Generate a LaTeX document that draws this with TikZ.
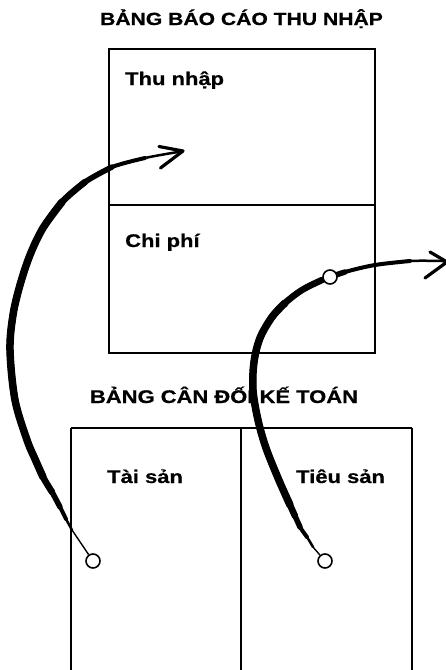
\documentclass[tikz,border=0pt]{standalone}
\usepackage{fontspec}
\setmainfont{Liberation Sans}[BoldFeatures={FakeBold=0.6}]
\begin{document}
\begin{tikzpicture}[x=1pt,y=-1pt,
  lbl/.style={font=\bfseries\fontsize{18.3}{20}\selectfont, inner sep=0pt, xscale=1.2},
  frame/.style={line width=1.9pt, draw=black},
  ring/.style={circle, draw=black, fill=white, line width=1.6pt, minimum size=14pt, inner sep=0pt},
  stroke/.style={line cap=round, line join=round, draw=black},
  tail/.style={line width=1.4pt, draw=black},
  barb/.style={line width=3.2pt, line cap=round, line join=round, draw=black}]
\useasboundingbox (0,0) rectangle (446,670);
\clip (0,0) rectangle (446,670);
\fill[white] (0,0) rectangle (446,670);

% titles
\node[lbl, font=\bfseries\fontsize{17.6}{20}\selectfont, anchor=base] (t1) at (241.5,25) {BẢNG BÁO CÁO THU NHẬP};
\node[lbl, anchor=base] (t2) at (224,403) {BẢNG CÂN ĐỐI KẾ TOÁN};

% income statement box
\draw[frame] (109,49) rectangle (375,353);
\draw[frame] (109,205) -- (375,205);
% balance sheet box
\draw[frame] (71,428) -- (71,690);
\draw[frame] (241,428) -- (241,690);
\draw[frame] (412,428) -- (412,690);
\draw[frame] (71,428) -- (412,428);

\node[lbl, anchor=base west] (inc) at (125,85) {Thu nhập};
\node[lbl, anchor=base west] (exp) at (125,247) {Chi phí};
\node[lbl, anchor=base west] (ast) at (107,483) {Tài sản};
\node[lbl, anchor=base west] (lia) at (296,483) {Tiêu sản};

% ---- left arrow: from asset ring up to income ----
\coordinate (la) at (72,530);
\coordinate (lb) at (178,152);
\coordinate (ltip) at (183,151);
\coordinate (lu) at (159,146.5);
\coordinate (ld) at (160.5,168);
\draw[stroke, line width=2.5pt] plot[smooth, tension=0.55] coordinates {(la) (66,519) (60,507) (52,492) (43,477) (35,459) (27,440) (15,400) (10,350) (13,315) (20,285) (30,255) (43,228) (62,202) (85,182) (112,167) (145,158) (lb)};
\draw[stroke, line width=4pt] plot[smooth, tension=0.55] coordinates {(66,519) (60,507) (52,492) (43,477) (35,459) (27,440) (15,400) (10,350) (13,315) (20,285) (30,255) (43,228) (62,202) (85,182) (112,167) (145,158)};
\draw[stroke, line width=5.5pt] plot[smooth, tension=0.55] coordinates {(60,507) (52,492) (43,477) (35,459) (27,440) (15,400) (10,350) (13,315) (20,285) (30,255) (43,228) (62,202) (85,182) (112,167)};
\draw[stroke, line width=6.5pt] plot[smooth, tension=0.55] coordinates {(52,492) (43,477) (35,459) (27,440) (15,400) (10,350) (13,315) (20,285) (30,255) (43,228) (62,202) (85,182)};
\draw[stroke, line width=7.5pt] plot[smooth, tension=0.55] coordinates {(43,477) (35,459) (27,440) (15,400) (10,350) (13,315) (20,285) (30,255) (43,228) (62,202)};
\draw[stroke, line width=2.5pt] (lb) -- (ltip);
\draw[barb] (lu) -- (ltip) -- (ld);
\node[ring] (ls) at (93,561) {};
\draw[tail] (ls) -- (la);

% ---- right arrow: from liability ring up and out ----
\coordinate (ra) at (313,547);
\coordinate (rb) at (442,261);
\coordinate (rtip) at (447,262);
\coordinate (ru) at (430,252);
\coordinate (rd) at (425,278);
\draw[stroke, line width=2.5pt] plot[smooth, tension=0.55] coordinates {(ra) (307,537) (300,527) (295,516) (290,505) (278,478) (266,448) (258,420) (253,390) (254,362) (260,338) (272,317) (285,303) (302,290) (322,280) (345,272) (375,265) (410,261) (rb)};
\draw[stroke, line width=4pt] plot[smooth, tension=0.55] coordinates {(307,537) (300,527) (295,516) (290,505) (278,478) (266,448) (258,420) (253,390) (254,362) (260,338) (272,317) (285,303) (302,290) (322,280) (345,272) (375,265) (410,261)};
\draw[stroke, line width=5.5pt] plot[smooth, tension=0.55] coordinates {(300,527) (295,516) (290,505) (278,478) (266,448) (258,420) (253,390) (254,362) (260,338) (272,317) (285,303) (302,290) (322,280) (345,272)};
\draw[stroke, line width=6.5pt] plot[smooth, tension=0.55] coordinates {(295,516) (290,505) (278,478) (266,448) (258,420) (253,390) (254,362) (260,338) (272,317) (285,303) (302,290) (322,280)};
\draw[stroke, line width=7.5pt] plot[smooth, tension=0.55] coordinates {(290,505) (278,478) (266,448) (258,420) (253,390) (254,362) (260,338) (272,317) (285,303)};
\draw[stroke, line width=2.5pt] (rb) -- (rtip);
\draw[barb] (ru) -- (rtip) -- (rd);
\node[ring] (rs) at (325,561) {};
\draw[tail] (rs) -- (ra);
\node[ring] (rm) at (330,277) {};
\end{tikzpicture}
\end{document}
